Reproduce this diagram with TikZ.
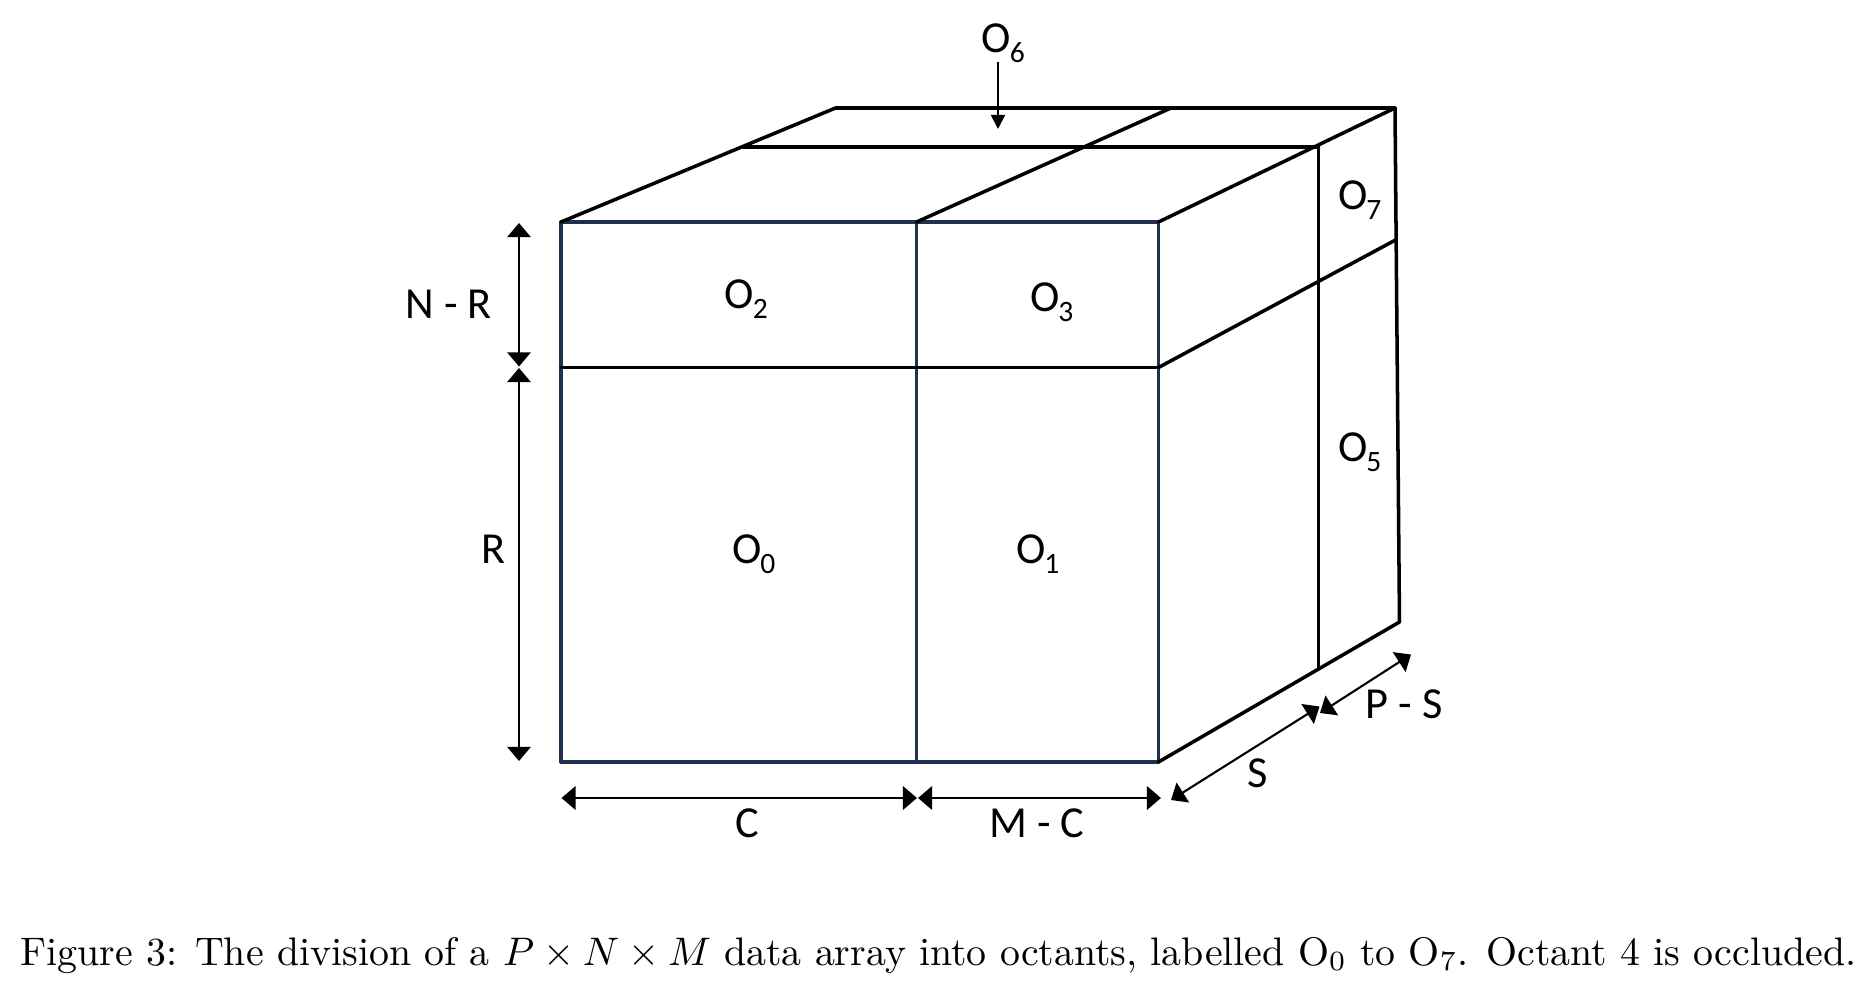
\documentclass[tikz,border=0pt]{standalone}
\usepackage{fontspec}
\usepackage{amsmath}
\usetikzlibrary{arrows.meta}
\newfontfamily\labelfont{Carlito}
\newcommand{\octant}[1]{O\kern-.3pt\raisebox{-3pt}{\fontsize{8.4}{9}\selectfont #1}}
\definecolor{facenavy}{HTML}{1F3050}
\tikzset{
  edge/.style={line width=1pt,line join=round,line cap=round},
  face/.style={edge,line width=.95pt,draw=facenavy},
  dimarrow/.style={line width=.6pt,{Triangle[length=4pt,width=6.6pt]}-{Triangle[length=4pt,width=6.6pt]}},
  lbl/.style={anchor=base west,inner sep=0pt,font=\labelfont\fontsize{12.6}{14}\selectfont},
}
\begin{document}
\begin{tikzpicture}[x=.01cm,y=-.01cm]
  \useasboundingbox (0,0) rectangle (1862,1000);

  % front face
  \path (561,222) coordinate (ftl); \path (916.5,222) coordinate (ftm); \path (1158.5,222) coordinate (ftr);
  \path (561,367.5) coordinate (fml); \path (1158.5,367.5) coordinate (fmr);
  \path (561,762) coordinate (fbl); \path (916.5,762) coordinate (fbm); \path (1158.5,762) coordinate (fbr);
  \draw[face] (ftl) to (ftr) to (fbr) to (fbl) to cycle;
  \draw[face] (ftm) to (fbm);
  \draw[edge] (fml) to (fmr);

  % top face
  \path (835.5,108) coordinate (btl); \path (1171,108) coordinate (btm); \path (1395,108) coordinate (btr);
  \path (743.5,147) coordinate (stl); \path (1318.5,147) coordinate (str);
  \draw[edge] (ftl) to (btl) to (btr);
  \draw[edge] (stl) to (str);
  \draw[edge] (ftm) to (btm);
  \draw[edge] (ftr) to (btr);

  % side face
  \path (1395.5,240) coordinate (bmr); \path (1399.5,622) coordinate (bbr); \path (1318.5,669) coordinate (sbr);
  \draw[edge] (btr) to (bbr) to (fbr);
  \draw[edge] (fmr) to (bmr);
  \draw[edge] (str) to (sbr);

  % dimensions
  \path (519,223) coordinate (nr1); \path (519,366.5) coordinate (nr2);
  \path (519,368) coordinate (r1); \path (519,761) coordinate (r2);
  \path (561.5,798) coordinate (c1); \path (917,798) coordinate (c2);
  \path (918,798) coordinate (mc1); \path (1161,798) coordinate (mc2);
  \path (1171,800) coordinate (s1); \path (1319.5,706.5) coordinate (s2);
  \path (1320,713) coordinate (ps1); \path (1411,654.5) coordinate (ps2);
  \draw[dimarrow] (nr1) to (nr2);
  \draw[dimarrow] (r1) to (r2);
  \draw[dimarrow,line width=.85pt] (c1) to (c2);
  \draw[dimarrow,line width=.85pt] (mc1) to (mc2);
  \draw[dimarrow] (s1) to (s2);
  \draw[dimarrow] (ps1) to (ps2);

  % view arrow
  \path (998,62) coordinate (v1); \path (998,129) coordinate (v2);
  \draw[line width=.5pt,-{Triangle[length=4pt,width=4pt]}] (v1) to (v2);

  % labels
  \foreach \n/\x/\y in {0/731.5/563,1/1015.5/563,2/724/308,3/1029.5/311,5/1337.5/461,6/981/52,7/1337.5/209}{
    \node[lbl] (o\n) at (\x,\y) {\octant{\n}};
  }
  \node[lbl] (nrlab) at (405,318) {N - R};
  \node[lbl] (rlab) at (480.5,563) {R};
  \node[lbl] (clab) at (735,837) {C};
  \node[lbl] (mclab) at (988.5,837) {M - C};
  \node[lbl] (slab) at (1246.5,787) {S};
  \node[lbl] (pslab) at (1365,718) {P - S};

  % caption
  \node[anchor=base west,inner sep=0pt,scale=1.133] (caption) at (20,965) {Figure 3: The division of a $P\times N\times M$ data array into octants, labelled O$_0$ to O$_7$. Octant 4 is occluded.};
\end{tikzpicture}
\end{document}
